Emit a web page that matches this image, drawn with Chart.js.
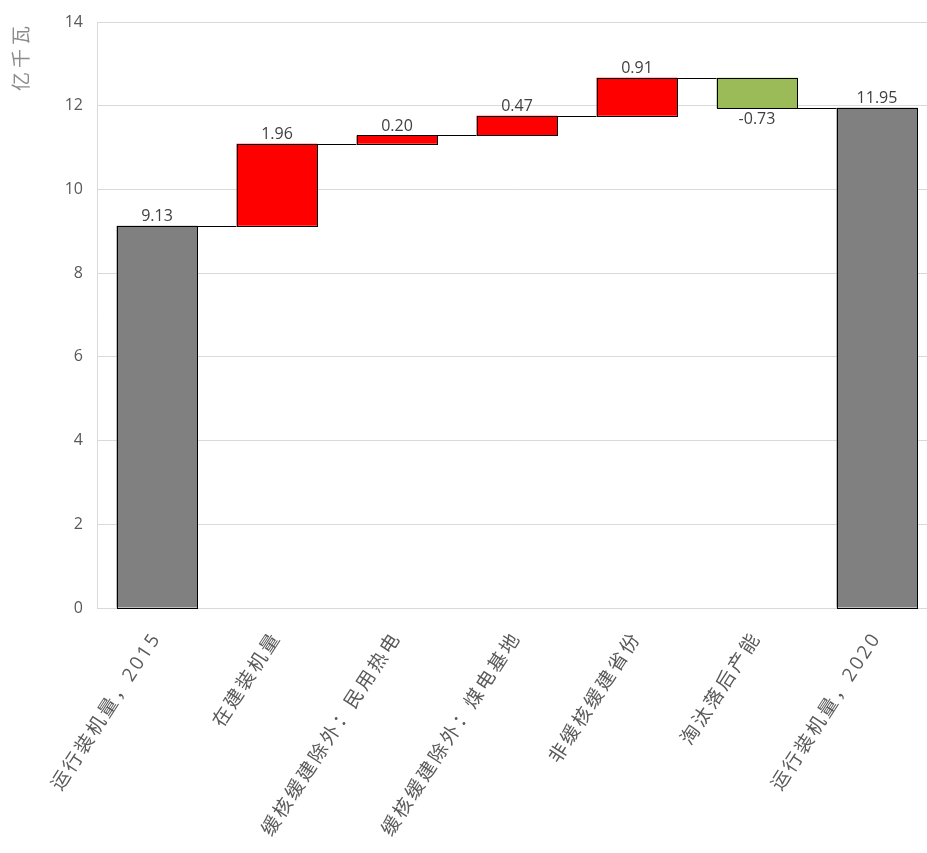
<!DOCTYPE html>
<html>
<head>
<meta charset="utf-8">
<script src="https://cdn.jsdelivr.net/npm/chart.js@4/dist/chart.umd.min.js"></script>
<style>
  html, body { margin: 0; padding: 0; background: #fff; overflow: hidden; }
  #wrap { width: 937px; height: 853px; }
</style>
</head>
<body>
<div id="wrap"><canvas id="chart" width="937" height="853"></canvas></div>
<script>
// categories and values (亿千瓦)
const categories = ['运行装机量，2015', '在建装机量', '缓核缓建除外：民用热电', '缓核缓建除外：煤电基地', '非缓核缓建省份', '淘汰落后产能', '运行装机量，2020'];
const changes = [9.13, 1.96, 0.20, 0.47, 0.91, -0.73, 11.95];
const isTotal = [true, false, false, false, false, false, true];
const yTicks = [0, 2, 4, 6, 8, 10, 12, 14];
const unitLabel = '亿千瓦';

// build floating bars
const ranges = [];
let level = 0;
changes.forEach((v, i) => {
    if (isTotal[i]) {
        ranges.push([0, v]);
        level = v;
    } else {
        ranges.push([level, level + v]);
        level += v;
    }
});
const colors = changes.map((v, i) => isTotal[i] ? '#808080' : (v >= 0 ? '#ff0000' : '#9bbb59'));

const cjk = '"Open Sans", "Noto Sans CJK SC", sans-serif';

// wider letter spacing for the category labels
const spacingPlugin = {
    id: 'labelSpacing',
    afterLayout(chart) {
        const scale = chart.scales.x;
        if (scale._spaced) return;
        const orig = scale.drawLabels;
        scale.drawLabels = function (area) {
            const c = this.ctx;
            const prev = c.letterSpacing;
            c.letterSpacing = '2.7px';
            orig.call(this, area);
            c.letterSpacing = prev || '0px';
        };
        scale._spaced = true;
    }
};

// connectors, bar outlines, value labels and unit title
const waterfallPlugin = {
    id: 'waterfall',
    afterDatasetsDraw(chart) {
        const ctx = chart.ctx;
        const meta = chart.getDatasetMeta(0);
        const y = chart.scales.y;
        ctx.save();
        ctx.strokeStyle = '#000';
        ctx.lineWidth = 1;
        for (let i = 0; i < meta.data.length - 1; i++) {
            const a = meta.data[i], b = meta.data[i + 1];
            const py = Math.round(y.getPixelForValue(ranges[i][1])) + 0.5;
            ctx.beginPath();
            ctx.moveTo(a.x + a.width / 2, py);
            ctx.lineTo(b.x - b.width / 2, py);
            ctx.stroke();
        }
        meta.data.forEach((bar, i) => {
            const t = Math.round(y.getPixelForValue(Math.max(...ranges[i]))) + 0.5;
            const b = Math.round(y.getPixelForValue(Math.min(...ranges[i]))) + 0.5;
            const l = Math.round(bar.x - bar.width / 2) + 0.5;
            const r = Math.round(bar.x + bar.width / 2) - 0.5;
            ctx.strokeRect(l, t, r - l, b - t);
        });
        ctx.font = '16px ' + cjk;
        ctx.fillStyle = '#404040';
        ctx.textAlign = 'center';
        meta.data.forEach((bar, i) => {
            const v = changes[i];
            const top = y.getPixelForValue(Math.max(...ranges[i]));
            const bottom = y.getPixelForValue(Math.min(...ranges[i]));
            if (v >= 0) {
                ctx.textBaseline = 'bottom';
                ctx.fillText(v.toFixed(2), bar.x, top - 1);
            } else {
                ctx.textBaseline = 'top';
                ctx.fillText(v.toFixed(2), bar.x, bottom + 3);
            }
        });
        // unit title
        ctx.translate(21, chart.chartArea.top);
        ctx.rotate(-Math.PI / 2);
        ctx.textAlign = 'right';
        ctx.textBaseline = 'middle';
        ctx.fillStyle = '#8c8c8c';
        ctx.font = '19px "Noto Sans CJK SC", sans-serif';
        ctx.letterSpacing = '4px';
        ctx.fillText(unitLabel, 0, 0);
        ctx.restore();
    }
};

new Chart(document.getElementById('chart').getContext('2d'), {
    type: 'bar',
    data: {
        labels: categories,
        datasets: [{
            data: ranges,
            backgroundColor: colors,
            borderWidth: 0,
            barPercentage: 0.675,
            categoryPercentage: 1
        }]
    },
    options: {
        responsive: false,
        animation: false,
        layout: { padding: { top: 10, right: 0, left: 0, bottom: 0 } },
        plugins: { legend: { display: false }, tooltip: { enabled: false } },
        scales: {
            x: {
                grid: { display: false },
                border: { display: false },
                ticks: {
                    color: '#595959',
                    font: { size: 19, family: cjk },
                    minRotation: 57,
                    maxRotation: 57,
                    padding: 12
                },
                afterFit(scale) { scale.height = 245; }
            },
            y: {
                min: 0,
                max: 14,
                afterBuildTicks(scale) { scale.ticks = yTicks.map(v => ({ value: v })); },
                grid: { color: '#d9d9d9', drawTicks: false },
                border: { display: true, color: '#d9d9d9' },
                ticks: {
                    color: '#595959',
                    font: { size: 16, family: cjk, lineHeight: 1 },
                    padding: 14
                },
                afterFit(scale) { scale.width = 97; }
            }
        }
    },
    plugins: [spacingPlugin, waterfallPlugin]
});
</script>
</body>
</html>
